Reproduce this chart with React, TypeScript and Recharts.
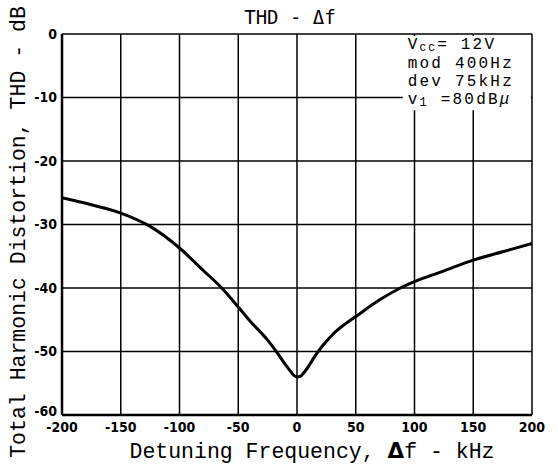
import React from "react";
import {
  CartesianGrid,
  Line,
  LineChart,
  ReferenceArea,
  XAxis,
  YAxis,
} from "recharts";

// detuning in kHz, THD in dB
const detuning = [
  -200, -175, -150, -125, -100, -80, -64, -50, -40, -25, -18, -12, -6, -3, 0, 3,
  6, 10, 15, 20, 25, 31, 40, 50, 70, 88, 100, 125, 150, 175, 200,
];
const thd = [
  -25.8, -26.9, -28.2, -30.3, -33.7, -37.2, -40.0, -43.0, -45.2, -48.2, -49.9,
  -51.5, -53.0, -53.7, -54.0, -53.9, -53.3, -52.3, -50.8, -49.5, -48.4, -47.2,
  -45.8, -44.5, -41.9, -40.0, -39.0, -37.3, -35.6, -34.3, -33.0,
];

const xTicks = [-200, -150, -100, -50, 0, 50, 100, 150, 200];
const yTicks = [0, -10, -20, -30, -40, -50, -60];

const title = "THD - \u0394f";
const xLabel = ["Detuning Frequency, ", "\u0394", "f - kHz"];
const yLabel = "Total Harmonic Distortion, THD - dB";
const conditions = ["mod 400Hz", "dev 75kHz"];

const data = detuning.map((f, i) => ({ f, thd: thd[i] }));

const tickStyle = {
  fontFamily: "'DejaVu Sans Condensed', 'DejaVu Sans', sans-serif",
  fontWeight: 700,
  fontSize: 14,
  fill: "#000",
};

const mono = "'Liberation Mono', 'DejaVu Sans Mono', monospace";

// y tick; the bottom one sits a little higher so it clears the x ticks
const YTick = (props: any) => {
  const { x, y, payload } = props;
  const lift = payload.value === -60 ? -4 : 0;
  return (
    <text x={x} y={y + lift} dy="0.355em" textAnchor="end" {...tickStyle}>
      {payload.value}
    </text>
  );
};

// text block drawn on top of the white box in the upper right corner
const Conditions = (props: any) => {
  const vb = props.viewBox || { x: 0, y: 0 };
  const x = vb.x + 5;
  const y = vb.y;
  return (
    <g fontFamily={mono} fontSize={16} letterSpacing={2.2} fill="#000">
      <text x={x} y={y + 13}>
        V<tspan fontSize={11} dy={2}>CC</tspan>
        <tspan dy={-2}>= 12V</tspan>
      </text>
      <text x={x} y={y + 32}>
        {conditions[0]}
      </text>
      <text x={x} y={y + 50}>
        {conditions[1]}
      </text>
      <text x={x} y={y + 68}>
        v<tspan fontSize={12} dy={2}>1</tspan>
        <tspan dy={-2}> =80dB</tspan>
        <tspan fontStyle="italic">{"\u03bc"}</tspan>
      </text>
    </g>
  );
};

const App = () => {
  return (
    <div style={{ width: 558, height: 466, background: "#fff" }}>
      <style>{`body{margin:0;background:#fff}`}</style>
      <LineChart
        width={558}
        height={466}
        data={data}
        margin={{ top: 34, right: 26, bottom: 0, left: 0 }}
      >
        <CartesianGrid stroke="#000" strokeWidth={1.5} ticks={xTicks} />
        <XAxis
          dataKey="f"
          type="number"
          domain={[-200, 200]}
          ticks={xTicks}
          height={51}
          tickSize={0}
          tickMargin={7}
          tick={tickStyle}
          axisLine={{ stroke: "#000", strokeWidth: 2.5 }}
          interval={0}
        />
        <XAxis
          xAxisId="top"
          orientation="top"
          type="number"
          domain={[-200, 200]}
          height={0}
          tick={false}
          tickLine={false}
          axisLine={{ stroke: "#000", strokeWidth: 2.5 }}
        />
        <YAxis
          type="number"
          domain={[-60, 0]}
          ticks={yTicks}
          width={62}
          tickSize={0}
          tickMargin={5}
          tick={<YTick />}
          axisLine={{ stroke: "#000", strokeWidth: 2.5 }}
          interval={0}
        />
        <YAxis
          yAxisId="right"
          orientation="right"
          type="number"
          domain={[-60, 0]}
          width={0}
          tick={false}
          tickLine={false}
          axisLine={{ stroke: "#000", strokeWidth: 2 }}
        />
        <ReferenceArea
          x1={90}
          x2={199}
          y1={-12}
          y2={-0.3}
          fill="#fff"
          fillOpacity={1}
          stroke="none"
          label={(p: any) => <Conditions {...p} />}
        />
        <Line
          type="monotone"
          dataKey="thd"
          stroke="#000"
          strokeWidth={3}
          dot={false}
          isAnimationActive={false}
        />
        <text
          x={290}
          y={24}
          textAnchor="middle"
          fontFamily="'DejaVu Sans Mono', monospace"
          fontSize={19}
          fill="#000"
        >
          {title}
        </text>
        <text
          x={312}
          y={458}
          textAnchor="middle"
          fontFamily={mono}
          fontSize={21.5}
          fill="#000"
        >
          {xLabel[0]}
          <tspan fontWeight={700} fontFamily="'DejaVu Sans', sans-serif">
            {xLabel[1]}
          </tspan>
          {xLabel[2]}
        </text>
        <text
          x={0}
          y={0}
          transform="translate(25,232) rotate(-90)"
          textAnchor="middle"
          fontFamily={mono}
          fontSize={21.5}
          fill="#000"
        >
          {yLabel}
        </text>
      </LineChart>
    </div>
  );
};

export default App;
